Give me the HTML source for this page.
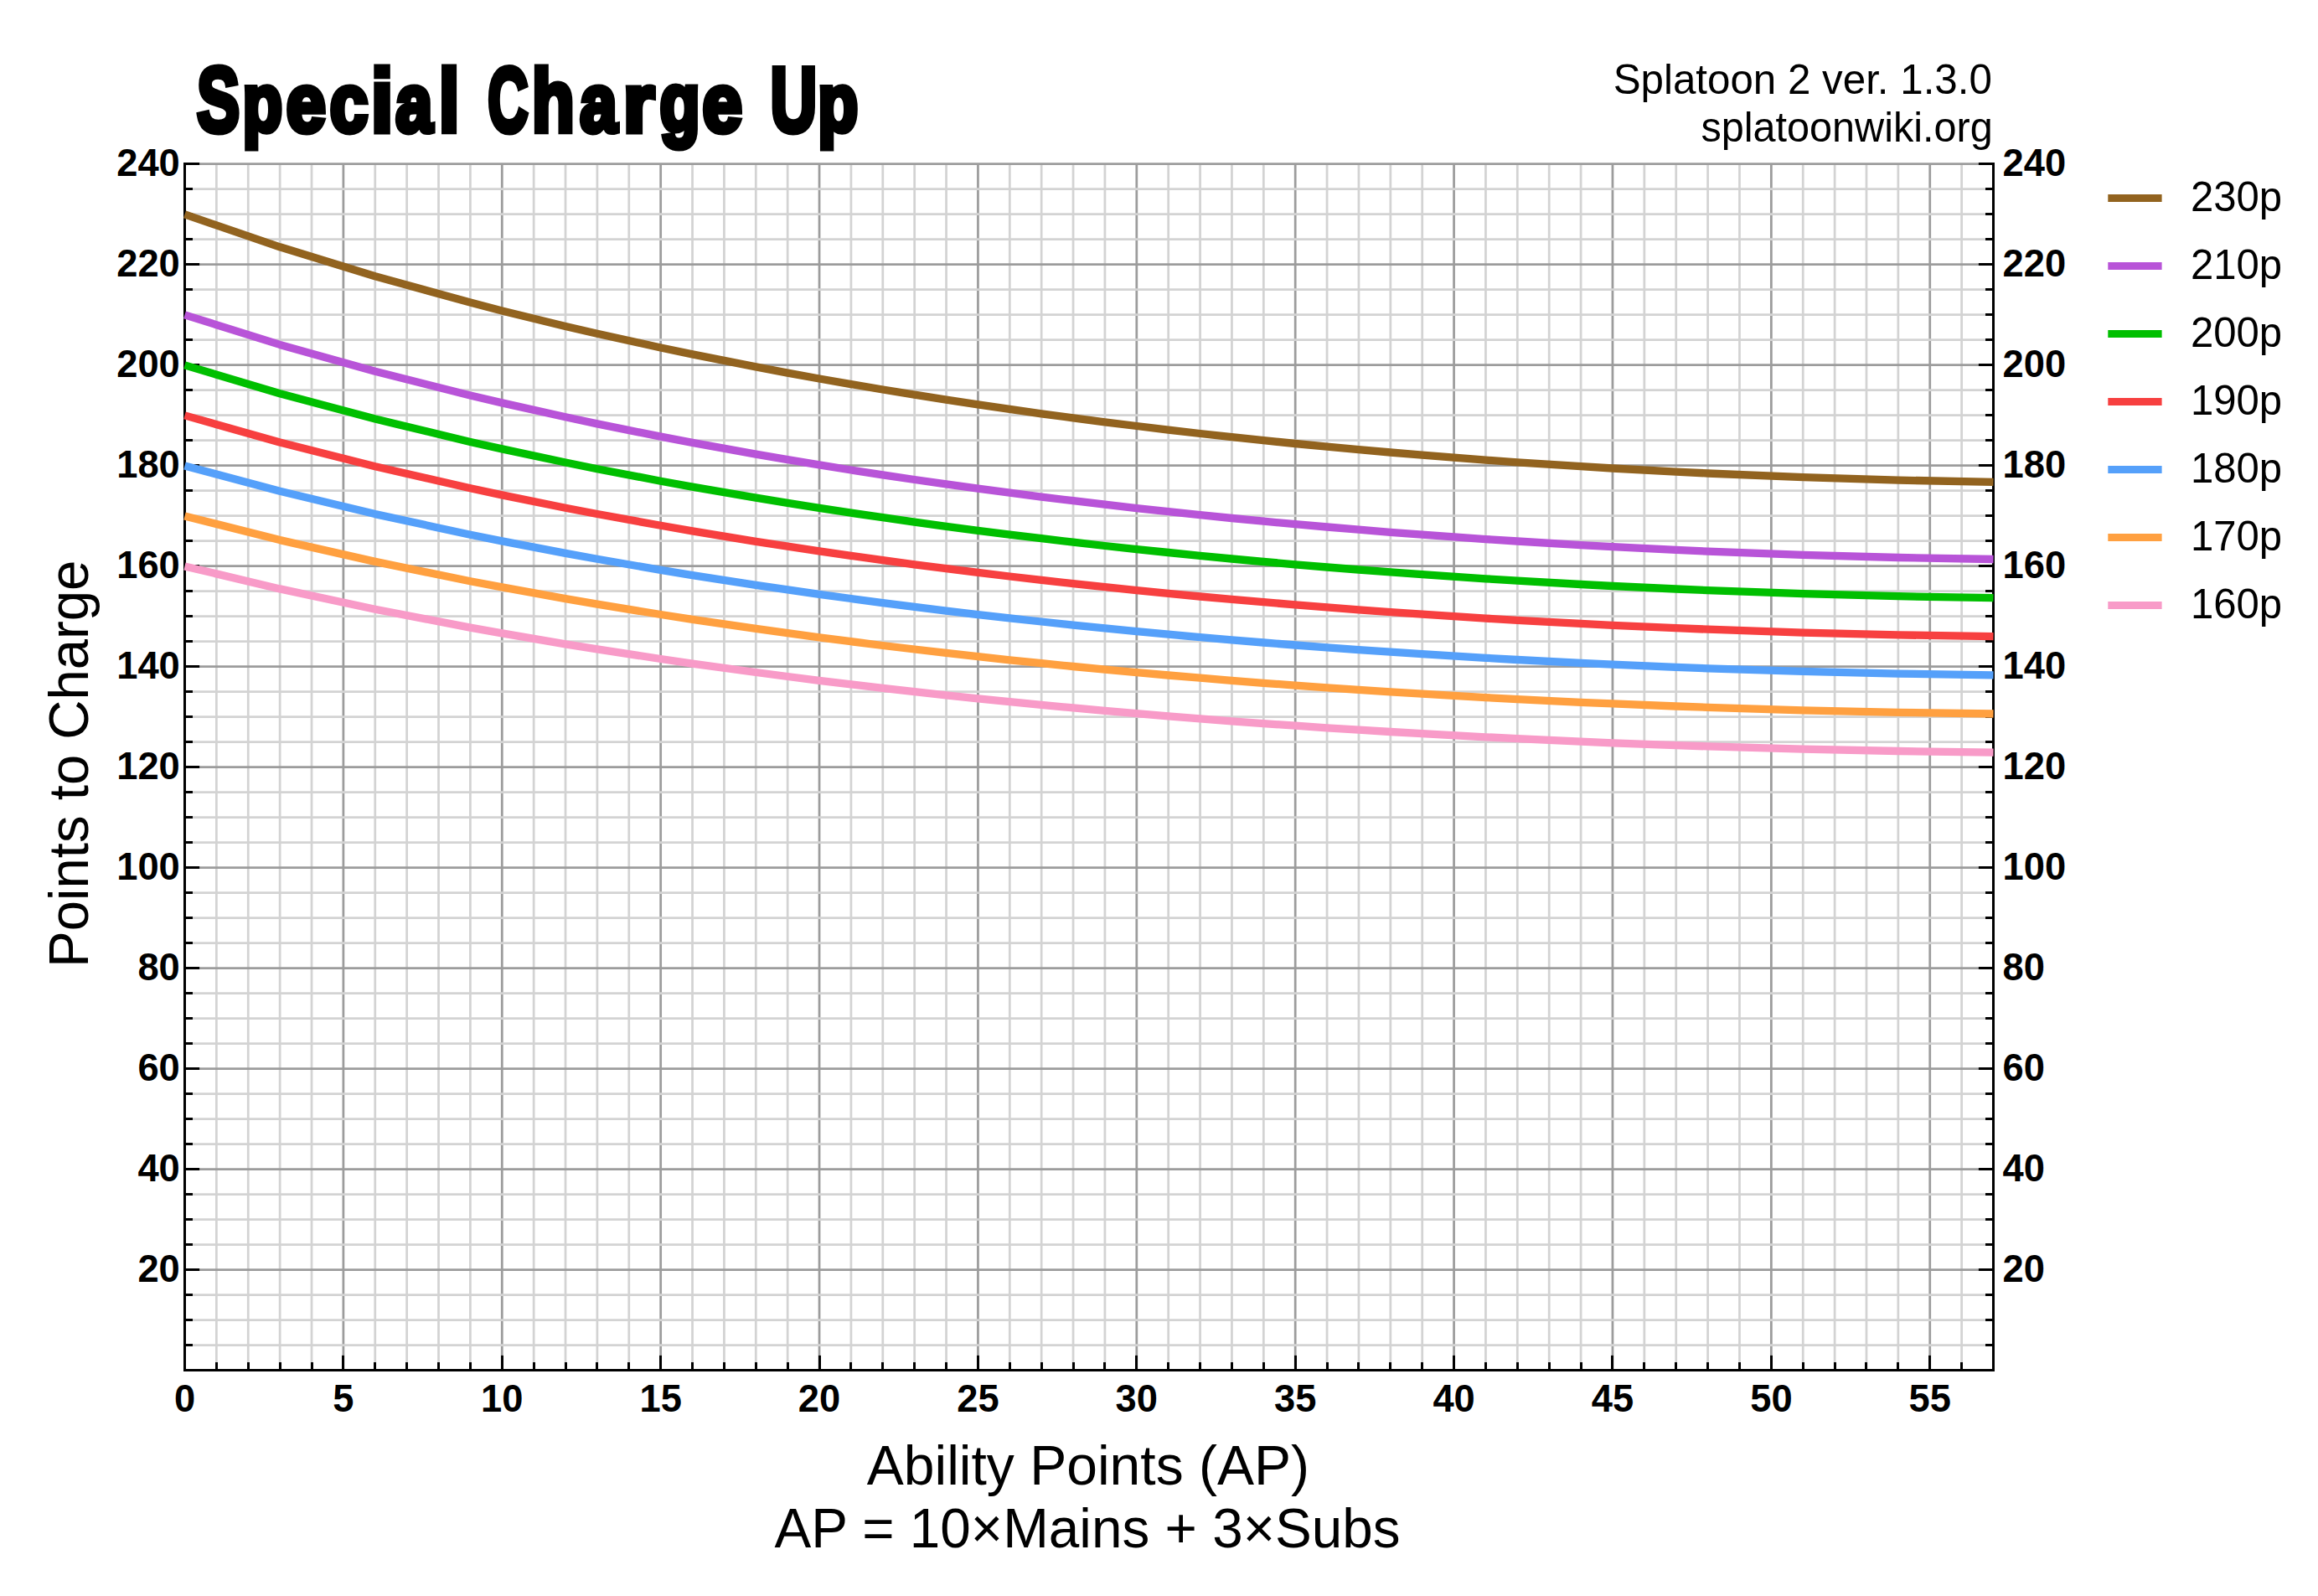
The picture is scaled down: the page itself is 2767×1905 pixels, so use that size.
<!DOCTYPE html>
<html lang="en"><head><meta charset="utf-8"><title>Special Charge Up</title>
<style>html,body{margin:0;padding:0;background:#fff}body{width:2767px;height:1905px;overflow:hidden}svg{display:block}</style></head>
<body>
<svg width="2767" height="1905" viewBox="0 0 2767 1905" font-family="'Liberation Sans', Arial, Helvetica, sans-serif">
<rect width="2767" height="1905" fill="#fff"/>
<g stroke-width="2.75" fill="none"><line x1="258.38" y1="195.5" x2="258.38" y2="1635.5" stroke="#d3d3d3"/><line x1="296.25" y1="195.5" x2="296.25" y2="1635.5" stroke="#d3d3d3"/><line x1="334.13" y1="195.5" x2="334.13" y2="1635.5" stroke="#d3d3d3"/><line x1="372.01" y1="195.5" x2="372.01" y2="1635.5" stroke="#d3d3d3"/><line x1="409.88" y1="195.5" x2="409.88" y2="1635.5" stroke="#9c9c9c"/><line x1="447.76" y1="195.5" x2="447.76" y2="1635.5" stroke="#d3d3d3"/><line x1="485.64" y1="195.5" x2="485.64" y2="1635.5" stroke="#d3d3d3"/><line x1="523.52" y1="195.5" x2="523.52" y2="1635.5" stroke="#d3d3d3"/><line x1="561.39" y1="195.5" x2="561.39" y2="1635.5" stroke="#d3d3d3"/><line x1="599.27" y1="195.5" x2="599.27" y2="1635.5" stroke="#9c9c9c"/><line x1="637.15" y1="195.5" x2="637.15" y2="1635.5" stroke="#d3d3d3"/><line x1="675.02" y1="195.5" x2="675.02" y2="1635.5" stroke="#d3d3d3"/><line x1="712.90" y1="195.5" x2="712.90" y2="1635.5" stroke="#d3d3d3"/><line x1="750.78" y1="195.5" x2="750.78" y2="1635.5" stroke="#d3d3d3"/><line x1="788.66" y1="195.5" x2="788.66" y2="1635.5" stroke="#9c9c9c"/><line x1="826.53" y1="195.5" x2="826.53" y2="1635.5" stroke="#d3d3d3"/><line x1="864.41" y1="195.5" x2="864.41" y2="1635.5" stroke="#d3d3d3"/><line x1="902.29" y1="195.5" x2="902.29" y2="1635.5" stroke="#d3d3d3"/><line x1="940.16" y1="195.5" x2="940.16" y2="1635.5" stroke="#d3d3d3"/><line x1="978.04" y1="195.5" x2="978.04" y2="1635.5" stroke="#9c9c9c"/><line x1="1015.92" y1="195.5" x2="1015.92" y2="1635.5" stroke="#d3d3d3"/><line x1="1053.79" y1="195.5" x2="1053.79" y2="1635.5" stroke="#d3d3d3"/><line x1="1091.67" y1="195.5" x2="1091.67" y2="1635.5" stroke="#d3d3d3"/><line x1="1129.55" y1="195.5" x2="1129.55" y2="1635.5" stroke="#d3d3d3"/><line x1="1167.43" y1="195.5" x2="1167.43" y2="1635.5" stroke="#9c9c9c"/><line x1="1205.30" y1="195.5" x2="1205.30" y2="1635.5" stroke="#d3d3d3"/><line x1="1243.18" y1="195.5" x2="1243.18" y2="1635.5" stroke="#d3d3d3"/><line x1="1281.06" y1="195.5" x2="1281.06" y2="1635.5" stroke="#d3d3d3"/><line x1="1318.93" y1="195.5" x2="1318.93" y2="1635.5" stroke="#d3d3d3"/><line x1="1356.81" y1="195.5" x2="1356.81" y2="1635.5" stroke="#9c9c9c"/><line x1="1394.69" y1="195.5" x2="1394.69" y2="1635.5" stroke="#d3d3d3"/><line x1="1432.56" y1="195.5" x2="1432.56" y2="1635.5" stroke="#d3d3d3"/><line x1="1470.44" y1="195.5" x2="1470.44" y2="1635.5" stroke="#d3d3d3"/><line x1="1508.32" y1="195.5" x2="1508.32" y2="1635.5" stroke="#d3d3d3"/><line x1="1546.20" y1="195.5" x2="1546.20" y2="1635.5" stroke="#9c9c9c"/><line x1="1584.07" y1="195.5" x2="1584.07" y2="1635.5" stroke="#d3d3d3"/><line x1="1621.95" y1="195.5" x2="1621.95" y2="1635.5" stroke="#d3d3d3"/><line x1="1659.83" y1="195.5" x2="1659.83" y2="1635.5" stroke="#d3d3d3"/><line x1="1697.70" y1="195.5" x2="1697.70" y2="1635.5" stroke="#d3d3d3"/><line x1="1735.58" y1="195.5" x2="1735.58" y2="1635.5" stroke="#9c9c9c"/><line x1="1773.46" y1="195.5" x2="1773.46" y2="1635.5" stroke="#d3d3d3"/><line x1="1811.33" y1="195.5" x2="1811.33" y2="1635.5" stroke="#d3d3d3"/><line x1="1849.21" y1="195.5" x2="1849.21" y2="1635.5" stroke="#d3d3d3"/><line x1="1887.09" y1="195.5" x2="1887.09" y2="1635.5" stroke="#d3d3d3"/><line x1="1924.97" y1="195.5" x2="1924.97" y2="1635.5" stroke="#9c9c9c"/><line x1="1962.84" y1="195.5" x2="1962.84" y2="1635.5" stroke="#d3d3d3"/><line x1="2000.72" y1="195.5" x2="2000.72" y2="1635.5" stroke="#d3d3d3"/><line x1="2038.60" y1="195.5" x2="2038.60" y2="1635.5" stroke="#d3d3d3"/><line x1="2076.47" y1="195.5" x2="2076.47" y2="1635.5" stroke="#d3d3d3"/><line x1="2114.35" y1="195.5" x2="2114.35" y2="1635.5" stroke="#9c9c9c"/><line x1="2152.23" y1="195.5" x2="2152.23" y2="1635.5" stroke="#d3d3d3"/><line x1="2190.10" y1="195.5" x2="2190.10" y2="1635.5" stroke="#d3d3d3"/><line x1="2227.98" y1="195.5" x2="2227.98" y2="1635.5" stroke="#d3d3d3"/><line x1="2265.86" y1="195.5" x2="2265.86" y2="1635.5" stroke="#d3d3d3"/><line x1="2303.74" y1="195.5" x2="2303.74" y2="1635.5" stroke="#9c9c9c"/><line x1="2341.61" y1="195.5" x2="2341.61" y2="1635.5" stroke="#d3d3d3"/><line x1="220.5" y1="1605.50" x2="2379.5" y2="1605.50" stroke="#d3d3d3"/><line x1="220.5" y1="1575.50" x2="2379.5" y2="1575.50" stroke="#d3d3d3"/><line x1="220.5" y1="1545.50" x2="2379.5" y2="1545.50" stroke="#d3d3d3"/><line x1="220.5" y1="1515.50" x2="2379.5" y2="1515.50" stroke="#9c9c9c"/><line x1="220.5" y1="1485.50" x2="2379.5" y2="1485.50" stroke="#d3d3d3"/><line x1="220.5" y1="1455.50" x2="2379.5" y2="1455.50" stroke="#d3d3d3"/><line x1="220.5" y1="1425.50" x2="2379.5" y2="1425.50" stroke="#d3d3d3"/><line x1="220.5" y1="1395.50" x2="2379.5" y2="1395.50" stroke="#9c9c9c"/><line x1="220.5" y1="1365.50" x2="2379.5" y2="1365.50" stroke="#d3d3d3"/><line x1="220.5" y1="1335.50" x2="2379.5" y2="1335.50" stroke="#d3d3d3"/><line x1="220.5" y1="1305.50" x2="2379.5" y2="1305.50" stroke="#d3d3d3"/><line x1="220.5" y1="1275.50" x2="2379.5" y2="1275.50" stroke="#9c9c9c"/><line x1="220.5" y1="1245.50" x2="2379.5" y2="1245.50" stroke="#d3d3d3"/><line x1="220.5" y1="1215.50" x2="2379.5" y2="1215.50" stroke="#d3d3d3"/><line x1="220.5" y1="1185.50" x2="2379.5" y2="1185.50" stroke="#d3d3d3"/><line x1="220.5" y1="1155.50" x2="2379.5" y2="1155.50" stroke="#9c9c9c"/><line x1="220.5" y1="1125.50" x2="2379.5" y2="1125.50" stroke="#d3d3d3"/><line x1="220.5" y1="1095.50" x2="2379.5" y2="1095.50" stroke="#d3d3d3"/><line x1="220.5" y1="1065.50" x2="2379.5" y2="1065.50" stroke="#d3d3d3"/><line x1="220.5" y1="1035.50" x2="2379.5" y2="1035.50" stroke="#9c9c9c"/><line x1="220.5" y1="1005.50" x2="2379.5" y2="1005.50" stroke="#d3d3d3"/><line x1="220.5" y1="975.50" x2="2379.5" y2="975.50" stroke="#d3d3d3"/><line x1="220.5" y1="945.50" x2="2379.5" y2="945.50" stroke="#d3d3d3"/><line x1="220.5" y1="915.50" x2="2379.5" y2="915.50" stroke="#9c9c9c"/><line x1="220.5" y1="885.50" x2="2379.5" y2="885.50" stroke="#d3d3d3"/><line x1="220.5" y1="855.50" x2="2379.5" y2="855.50" stroke="#d3d3d3"/><line x1="220.5" y1="825.50" x2="2379.5" y2="825.50" stroke="#d3d3d3"/><line x1="220.5" y1="795.50" x2="2379.5" y2="795.50" stroke="#9c9c9c"/><line x1="220.5" y1="765.50" x2="2379.5" y2="765.50" stroke="#d3d3d3"/><line x1="220.5" y1="735.50" x2="2379.5" y2="735.50" stroke="#d3d3d3"/><line x1="220.5" y1="705.50" x2="2379.5" y2="705.50" stroke="#d3d3d3"/><line x1="220.5" y1="675.50" x2="2379.5" y2="675.50" stroke="#9c9c9c"/><line x1="220.5" y1="645.50" x2="2379.5" y2="645.50" stroke="#d3d3d3"/><line x1="220.5" y1="615.50" x2="2379.5" y2="615.50" stroke="#d3d3d3"/><line x1="220.5" y1="585.50" x2="2379.5" y2="585.50" stroke="#d3d3d3"/><line x1="220.5" y1="555.50" x2="2379.5" y2="555.50" stroke="#9c9c9c"/><line x1="220.5" y1="525.50" x2="2379.5" y2="525.50" stroke="#d3d3d3"/><line x1="220.5" y1="495.50" x2="2379.5" y2="495.50" stroke="#d3d3d3"/><line x1="220.5" y1="465.50" x2="2379.5" y2="465.50" stroke="#d3d3d3"/><line x1="220.5" y1="435.50" x2="2379.5" y2="435.50" stroke="#9c9c9c"/><line x1="220.5" y1="405.50" x2="2379.5" y2="405.50" stroke="#d3d3d3"/><line x1="220.5" y1="375.50" x2="2379.5" y2="375.50" stroke="#d3d3d3"/><line x1="220.5" y1="345.50" x2="2379.5" y2="345.50" stroke="#d3d3d3"/><line x1="220.5" y1="315.50" x2="2379.5" y2="315.50" stroke="#9c9c9c"/><line x1="220.5" y1="285.50" x2="2379.5" y2="285.50" stroke="#d3d3d3"/><line x1="220.5" y1="255.50" x2="2379.5" y2="255.50" stroke="#d3d3d3"/><line x1="220.5" y1="225.50" x2="2379.5" y2="225.50" stroke="#d3d3d3"/><line x1="220.5" y1="195.50" x2="2379.5" y2="195.50" stroke="#9c9c9c"/></g>
<path d="M220.5 194.0V1635.5H2379.489V194.0" fill="none" stroke="#000" stroke-width="3" stroke-linejoin="miter" stroke-linecap="butt"/><g stroke="#000" stroke-width="3"><line x1="258.5" y1="1635.5" x2="258.5" y2="1626.0"/><line x1="296.5" y1="1635.5" x2="296.5" y2="1626.0"/><line x1="334.5" y1="1635.5" x2="334.5" y2="1626.0"/><line x1="372.5" y1="1635.5" x2="372.5" y2="1626.0"/><line x1="409.5" y1="1635.5" x2="409.5" y2="1617.9"/><line x1="447.5" y1="1635.5" x2="447.5" y2="1626.0"/><line x1="485.5" y1="1635.5" x2="485.5" y2="1626.0"/><line x1="523.5" y1="1635.5" x2="523.5" y2="1626.0"/><line x1="561.5" y1="1635.5" x2="561.5" y2="1626.0"/><line x1="599.5" y1="1635.5" x2="599.5" y2="1617.9"/><line x1="637.5" y1="1635.5" x2="637.5" y2="1626.0"/><line x1="675.5" y1="1635.5" x2="675.5" y2="1626.0"/><line x1="712.5" y1="1635.5" x2="712.5" y2="1626.0"/><line x1="750.5" y1="1635.5" x2="750.5" y2="1626.0"/><line x1="788.5" y1="1635.5" x2="788.5" y2="1617.9"/><line x1="826.5" y1="1635.5" x2="826.5" y2="1626.0"/><line x1="864.5" y1="1635.5" x2="864.5" y2="1626.0"/><line x1="902.5" y1="1635.5" x2="902.5" y2="1626.0"/><line x1="940.5" y1="1635.5" x2="940.5" y2="1626.0"/><line x1="978.5" y1="1635.5" x2="978.5" y2="1617.9"/><line x1="1015.5" y1="1635.5" x2="1015.5" y2="1626.0"/><line x1="1053.5" y1="1635.5" x2="1053.5" y2="1626.0"/><line x1="1091.5" y1="1635.5" x2="1091.5" y2="1626.0"/><line x1="1129.5" y1="1635.5" x2="1129.5" y2="1626.0"/><line x1="1167.5" y1="1635.5" x2="1167.5" y2="1617.9"/><line x1="1205.5" y1="1635.5" x2="1205.5" y2="1626.0"/><line x1="1243.5" y1="1635.5" x2="1243.5" y2="1626.0"/><line x1="1281.5" y1="1635.5" x2="1281.5" y2="1626.0"/><line x1="1318.5" y1="1635.5" x2="1318.5" y2="1626.0"/><line x1="1356.5" y1="1635.5" x2="1356.5" y2="1617.9"/><line x1="1394.5" y1="1635.5" x2="1394.5" y2="1626.0"/><line x1="1432.5" y1="1635.5" x2="1432.5" y2="1626.0"/><line x1="1470.5" y1="1635.5" x2="1470.5" y2="1626.0"/><line x1="1508.5" y1="1635.5" x2="1508.5" y2="1626.0"/><line x1="1546.5" y1="1635.5" x2="1546.5" y2="1617.9"/><line x1="1584.5" y1="1635.5" x2="1584.5" y2="1626.0"/><line x1="1621.5" y1="1635.5" x2="1621.5" y2="1626.0"/><line x1="1659.5" y1="1635.5" x2="1659.5" y2="1626.0"/><line x1="1697.5" y1="1635.5" x2="1697.5" y2="1626.0"/><line x1="1735.5" y1="1635.5" x2="1735.5" y2="1617.9"/><line x1="1773.5" y1="1635.5" x2="1773.5" y2="1626.0"/><line x1="1811.5" y1="1635.5" x2="1811.5" y2="1626.0"/><line x1="1849.5" y1="1635.5" x2="1849.5" y2="1626.0"/><line x1="1887.5" y1="1635.5" x2="1887.5" y2="1626.0"/><line x1="1924.5" y1="1635.5" x2="1924.5" y2="1617.9"/><line x1="1962.5" y1="1635.5" x2="1962.5" y2="1626.0"/><line x1="2000.5" y1="1635.5" x2="2000.5" y2="1626.0"/><line x1="2038.5" y1="1635.5" x2="2038.5" y2="1626.0"/><line x1="2076.5" y1="1635.5" x2="2076.5" y2="1626.0"/><line x1="2114.5" y1="1635.5" x2="2114.5" y2="1617.9"/><line x1="2152.5" y1="1635.5" x2="2152.5" y2="1626.0"/><line x1="2190.5" y1="1635.5" x2="2190.5" y2="1626.0"/><line x1="2227.5" y1="1635.5" x2="2227.5" y2="1626.0"/><line x1="2265.5" y1="1635.5" x2="2265.5" y2="1626.0"/><line x1="2303.5" y1="1635.5" x2="2303.5" y2="1617.9"/><line x1="2341.5" y1="1635.5" x2="2341.5" y2="1626.0"/><line x1="220.5" y1="1605.5" x2="230.0" y2="1605.5"/><line x1="2379.489" y1="1605.5" x2="2369.989" y2="1605.5"/><line x1="220.5" y1="1575.5" x2="230.0" y2="1575.5"/><line x1="2379.489" y1="1575.5" x2="2369.989" y2="1575.5"/><line x1="220.5" y1="1545.5" x2="230.0" y2="1545.5"/><line x1="2379.489" y1="1545.5" x2="2369.989" y2="1545.5"/><line x1="220.5" y1="1515.5" x2="238.1" y2="1515.5"/><line x1="2379.489" y1="1515.5" x2="2361.889" y2="1515.5"/><line x1="220.5" y1="1485.5" x2="230.0" y2="1485.5"/><line x1="2379.489" y1="1485.5" x2="2369.989" y2="1485.5"/><line x1="220.5" y1="1455.5" x2="230.0" y2="1455.5"/><line x1="2379.489" y1="1455.5" x2="2369.989" y2="1455.5"/><line x1="220.5" y1="1425.5" x2="230.0" y2="1425.5"/><line x1="2379.489" y1="1425.5" x2="2369.989" y2="1425.5"/><line x1="220.5" y1="1395.5" x2="238.1" y2="1395.5"/><line x1="2379.489" y1="1395.5" x2="2361.889" y2="1395.5"/><line x1="220.5" y1="1365.5" x2="230.0" y2="1365.5"/><line x1="2379.489" y1="1365.5" x2="2369.989" y2="1365.5"/><line x1="220.5" y1="1335.5" x2="230.0" y2="1335.5"/><line x1="2379.489" y1="1335.5" x2="2369.989" y2="1335.5"/><line x1="220.5" y1="1305.5" x2="230.0" y2="1305.5"/><line x1="2379.489" y1="1305.5" x2="2369.989" y2="1305.5"/><line x1="220.5" y1="1275.5" x2="238.1" y2="1275.5"/><line x1="2379.489" y1="1275.5" x2="2361.889" y2="1275.5"/><line x1="220.5" y1="1245.5" x2="230.0" y2="1245.5"/><line x1="2379.489" y1="1245.5" x2="2369.989" y2="1245.5"/><line x1="220.5" y1="1215.5" x2="230.0" y2="1215.5"/><line x1="2379.489" y1="1215.5" x2="2369.989" y2="1215.5"/><line x1="220.5" y1="1185.5" x2="230.0" y2="1185.5"/><line x1="2379.489" y1="1185.5" x2="2369.989" y2="1185.5"/><line x1="220.5" y1="1155.5" x2="238.1" y2="1155.5"/><line x1="2379.489" y1="1155.5" x2="2361.889" y2="1155.5"/><line x1="220.5" y1="1125.5" x2="230.0" y2="1125.5"/><line x1="2379.489" y1="1125.5" x2="2369.989" y2="1125.5"/><line x1="220.5" y1="1095.5" x2="230.0" y2="1095.5"/><line x1="2379.489" y1="1095.5" x2="2369.989" y2="1095.5"/><line x1="220.5" y1="1065.5" x2="230.0" y2="1065.5"/><line x1="2379.489" y1="1065.5" x2="2369.989" y2="1065.5"/><line x1="220.5" y1="1035.5" x2="238.1" y2="1035.5"/><line x1="2379.489" y1="1035.5" x2="2361.889" y2="1035.5"/><line x1="220.5" y1="1005.5" x2="230.0" y2="1005.5"/><line x1="2379.489" y1="1005.5" x2="2369.989" y2="1005.5"/><line x1="220.5" y1="975.5" x2="230.0" y2="975.5"/><line x1="2379.489" y1="975.5" x2="2369.989" y2="975.5"/><line x1="220.5" y1="945.5" x2="230.0" y2="945.5"/><line x1="2379.489" y1="945.5" x2="2369.989" y2="945.5"/><line x1="220.5" y1="915.5" x2="238.1" y2="915.5"/><line x1="2379.489" y1="915.5" x2="2361.889" y2="915.5"/><line x1="220.5" y1="885.5" x2="230.0" y2="885.5"/><line x1="2379.489" y1="885.5" x2="2369.989" y2="885.5"/><line x1="220.5" y1="855.5" x2="230.0" y2="855.5"/><line x1="2379.489" y1="855.5" x2="2369.989" y2="855.5"/><line x1="220.5" y1="825.5" x2="230.0" y2="825.5"/><line x1="2379.489" y1="825.5" x2="2369.989" y2="825.5"/><line x1="220.5" y1="795.5" x2="238.1" y2="795.5"/><line x1="2379.489" y1="795.5" x2="2361.889" y2="795.5"/><line x1="220.5" y1="765.5" x2="230.0" y2="765.5"/><line x1="2379.489" y1="765.5" x2="2369.989" y2="765.5"/><line x1="220.5" y1="735.5" x2="230.0" y2="735.5"/><line x1="2379.489" y1="735.5" x2="2369.989" y2="735.5"/><line x1="220.5" y1="705.5" x2="230.0" y2="705.5"/><line x1="2379.489" y1="705.5" x2="2369.989" y2="705.5"/><line x1="220.5" y1="675.5" x2="238.1" y2="675.5"/><line x1="2379.489" y1="675.5" x2="2361.889" y2="675.5"/><line x1="220.5" y1="645.5" x2="230.0" y2="645.5"/><line x1="2379.489" y1="645.5" x2="2369.989" y2="645.5"/><line x1="220.5" y1="615.5" x2="230.0" y2="615.5"/><line x1="2379.489" y1="615.5" x2="2369.989" y2="615.5"/><line x1="220.5" y1="585.5" x2="230.0" y2="585.5"/><line x1="2379.489" y1="585.5" x2="2369.989" y2="585.5"/><line x1="220.5" y1="555.5" x2="238.1" y2="555.5"/><line x1="2379.489" y1="555.5" x2="2361.889" y2="555.5"/><line x1="220.5" y1="525.5" x2="230.0" y2="525.5"/><line x1="2379.489" y1="525.5" x2="2369.989" y2="525.5"/><line x1="220.5" y1="495.5" x2="230.0" y2="495.5"/><line x1="2379.489" y1="495.5" x2="2369.989" y2="495.5"/><line x1="220.5" y1="465.5" x2="230.0" y2="465.5"/><line x1="2379.489" y1="465.5" x2="2369.989" y2="465.5"/><line x1="220.5" y1="435.5" x2="238.1" y2="435.5"/><line x1="2379.489" y1="435.5" x2="2361.889" y2="435.5"/><line x1="220.5" y1="405.5" x2="230.0" y2="405.5"/><line x1="2379.489" y1="405.5" x2="2369.989" y2="405.5"/><line x1="220.5" y1="375.5" x2="230.0" y2="375.5"/><line x1="2379.489" y1="375.5" x2="2369.989" y2="375.5"/><line x1="220.5" y1="345.5" x2="230.0" y2="345.5"/><line x1="2379.489" y1="345.5" x2="2369.989" y2="345.5"/><line x1="220.5" y1="315.5" x2="238.1" y2="315.5"/><line x1="2379.489" y1="315.5" x2="2361.889" y2="315.5"/><line x1="220.5" y1="285.5" x2="230.0" y2="285.5"/><line x1="2379.489" y1="285.5" x2="2369.989" y2="285.5"/><line x1="220.5" y1="255.5" x2="230.0" y2="255.5"/><line x1="2379.489" y1="255.5" x2="2369.989" y2="255.5"/><line x1="220.5" y1="225.5" x2="230.0" y2="225.5"/><line x1="2379.489" y1="225.5" x2="2369.989" y2="225.5"/><line x1="220.5" y1="195.5" x2="238.1" y2="195.5"/><line x1="2379.489" y1="195.5" x2="2361.889" y2="195.5"/></g>
<g fill="none" stroke-width="9.3" stroke-linejoin="round" stroke-linecap="butt"><polyline points="220.5,255.9 334.1,294.8 447.8,329.7 561.4,361.1 599.3,370.9 675.0,389.4 712.9,398.2 788.7,415.0 826.5,422.9 902.3,437.9 940.2,445.1 978.0,452.0 1015.9,458.6 1053.8,465.0 1091.7,471.2 1129.5,477.2 1167.4,482.9 1205.3,488.4 1243.2,493.8 1281.1,498.9 1318.9,503.8 1356.8,508.5 1394.7,513.1 1432.6,517.5 1470.4,521.6 1508.3,525.7 1546.2,529.5 1584.1,533.2 1621.9,536.7 1659.8,540.0 1697.7,543.2 1773.5,549.1 1811.3,551.8 1887.1,556.7 1925.0,559.0 2000.7,563.1 2038.6,565.0 2152.2,569.6 2265.9,573.1 2379.5,575.3" stroke="#92631f"/><polyline points="220.5,375.9 334.1,411.4 447.8,443.3 561.4,472.0 599.3,480.9 675.0,497.8 712.9,505.9 788.7,521.1 826.5,528.4 902.3,542.1 940.2,548.6 978.0,554.9 1015.9,561.0 1053.8,566.8 1091.7,572.5 1129.5,577.9 1167.4,583.2 1205.3,588.2 1243.2,593.1 1281.1,597.7 1318.9,602.2 1356.8,606.6 1394.7,610.7 1432.6,614.7 1470.4,618.5 1508.3,622.2 1546.2,625.7 1584.1,629.0 1621.9,632.2 1659.8,635.3 1697.7,638.2 1773.5,643.6 1811.3,646.0 1887.1,650.6 1925.0,652.7 2000.7,656.4 2038.6,658.1 2152.2,662.3 2265.9,665.5 2379.5,667.5" stroke="#b854d8"/><polyline points="220.5,435.9 334.1,469.7 447.8,500.1 561.4,527.4 599.3,535.9 675.0,552.0 712.9,559.7 788.7,574.2 826.5,581.1 902.3,594.2 940.2,600.4 978.0,606.4 1015.9,612.2 1053.8,617.7 1091.7,623.1 1129.5,628.3 1167.4,633.3 1205.3,638.1 1243.2,642.7 1281.1,647.2 1318.9,651.5 1356.8,655.6 1394.7,659.5 1432.6,663.3 1470.4,667.0 1508.3,670.5 1546.2,673.8 1584.1,677.0 1621.9,680.0 1659.8,682.9 1697.7,685.7 1773.5,690.8 1811.3,693.2 1887.1,697.5 1925.0,699.5 2000.7,703.0 2038.6,704.6 2152.2,708.7 2265.9,711.7 2379.5,713.6" stroke="#00bf00"/><polyline points="220.5,495.9 334.1,528.0 447.8,556.8 561.4,582.8 599.3,590.9 675.0,606.2 712.9,613.5 788.7,627.3 826.5,633.8 902.3,646.3 940.2,652.2 978.0,657.9 1015.9,663.4 1053.8,668.6 1091.7,673.8 1129.5,678.7 1167.4,683.4 1205.3,688.0 1243.2,692.4 1281.1,696.6 1318.9,700.7 1356.8,704.6 1394.7,708.4 1432.6,712.0 1470.4,715.4 1508.3,718.7 1546.2,721.9 1584.1,724.9 1621.9,727.8 1659.8,730.6 1697.7,733.2 1773.5,738.1 1811.3,740.3 1887.1,744.4 1925.0,746.3 2000.7,749.7 2038.6,751.2 2152.2,755.1 2265.9,757.9 2379.5,759.7" stroke="#f74040"/><polyline points="220.5,555.9 334.1,586.3 447.8,613.6 561.4,638.2 599.3,645.9 675.0,660.4 712.9,667.3 788.7,680.4 826.5,686.6 902.3,698.4 940.2,703.9 978.0,709.3 1015.9,714.5 1053.8,719.6 1091.7,724.4 1129.5,729.1 1167.4,733.6 1205.3,737.9 1243.2,742.0 1281.1,746.1 1318.9,749.9 1356.8,753.6 1394.7,757.2 1432.6,760.6 1470.4,763.9 1508.3,767.0 1546.2,770.0 1584.1,772.9 1621.9,775.6 1659.8,778.2 1697.7,780.7 1773.5,785.3 1811.3,787.5 1887.1,791.3 1925.0,793.1 2000.7,796.3 2038.6,797.8 2152.2,801.4 2265.9,804.1 2379.5,805.9" stroke="#55a0fa"/><polyline points="220.5,615.9 334.1,644.6 447.8,670.4 561.4,693.7 599.3,700.9 675.0,714.6 712.9,721.1 788.7,733.5 826.5,739.3 902.3,750.4 940.2,755.7 978.0,760.8 1015.9,765.7 1053.8,770.5 1091.7,775.0 1129.5,779.4 1167.4,783.7 1205.3,787.8 1243.2,791.7 1281.1,795.5 1318.9,799.1 1356.8,802.6 1394.7,806.0 1432.6,809.2 1470.4,812.3 1508.3,815.3 1546.2,818.1 1584.1,820.8 1621.9,823.4 1659.8,825.9 1697.7,828.2 1773.5,832.6 1811.3,834.6 1887.1,838.3 1925.0,839.9 2000.7,843.0 2038.6,844.3 2152.2,847.8 2265.9,850.3 2379.5,852.0" stroke="#ffa040"/><polyline points="220.5,675.9 334.1,702.9 447.8,727.2 561.4,749.1 599.3,755.9 675.0,768.8 712.9,774.9 788.7,786.5 826.5,792.1 902.3,802.5 940.2,807.5 978.0,812.3 1015.9,816.9 1053.8,821.4 1091.7,825.7 1129.5,829.8 1167.4,833.8 1205.3,837.7 1243.2,841.4 1281.1,844.9 1318.9,848.4 1356.8,851.7 1394.7,854.8 1432.6,857.9 1470.4,860.8 1508.3,863.6 1546.2,866.2 1584.1,868.8 1621.9,871.2 1659.8,873.5 1697.7,875.7 1773.5,879.8 1811.3,881.7 1887.1,885.2 1925.0,886.8 2000.7,889.6 2038.6,890.9 2152.2,894.1 2265.9,896.5 2379.5,898.1" stroke="#f89bc8"/></g>
<g font-size="46" font-weight="bold" fill="#000"><text transform="translate(220.5 1684.9) scale(0.985 1)" text-anchor="middle">0</text><text transform="translate(409.9 1684.9) scale(0.985 1)" text-anchor="middle">5</text><text transform="translate(599.3 1684.9) scale(0.985 1)" text-anchor="middle">10</text><text transform="translate(788.7 1684.9) scale(0.985 1)" text-anchor="middle">15</text><text transform="translate(978.0 1684.9) scale(0.985 1)" text-anchor="middle">20</text><text transform="translate(1167.4 1684.9) scale(0.985 1)" text-anchor="middle">25</text><text transform="translate(1356.8 1684.9) scale(0.985 1)" text-anchor="middle">30</text><text transform="translate(1546.2 1684.9) scale(0.985 1)" text-anchor="middle">35</text><text transform="translate(1735.6 1684.9) scale(0.985 1)" text-anchor="middle">40</text><text transform="translate(1925.0 1684.9) scale(0.985 1)" text-anchor="middle">45</text><text transform="translate(2114.4 1684.9) scale(0.985 1)" text-anchor="middle">50</text><text transform="translate(2303.7 1684.9) scale(0.985 1)" text-anchor="middle">55</text><text transform="translate(214.8 1530.0) scale(0.985 1)" text-anchor="end">20</text><text transform="translate(2390.5 1530.0) scale(0.985 1)" text-anchor="start">20</text><text transform="translate(214.8 1410.0) scale(0.985 1)" text-anchor="end">40</text><text transform="translate(2390.5 1410.0) scale(0.985 1)" text-anchor="start">40</text><text transform="translate(214.8 1290.0) scale(0.985 1)" text-anchor="end">60</text><text transform="translate(2390.5 1290.0) scale(0.985 1)" text-anchor="start">60</text><text transform="translate(214.8 1170.0) scale(0.985 1)" text-anchor="end">80</text><text transform="translate(2390.5 1170.0) scale(0.985 1)" text-anchor="start">80</text><text transform="translate(214.8 1050.0) scale(0.985 1)" text-anchor="end">100</text><text transform="translate(2390.5 1050.0) scale(0.985 1)" text-anchor="start">100</text><text transform="translate(214.8 930.0) scale(0.985 1)" text-anchor="end">120</text><text transform="translate(2390.5 930.0) scale(0.985 1)" text-anchor="start">120</text><text transform="translate(214.8 810.0) scale(0.985 1)" text-anchor="end">140</text><text transform="translate(2390.5 810.0) scale(0.985 1)" text-anchor="start">140</text><text transform="translate(214.8 690.0) scale(0.985 1)" text-anchor="end">160</text><text transform="translate(2390.5 690.0) scale(0.985 1)" text-anchor="start">160</text><text transform="translate(214.8 570.0) scale(0.985 1)" text-anchor="end">180</text><text transform="translate(2390.5 570.0) scale(0.985 1)" text-anchor="start">180</text><text transform="translate(214.8 450.0) scale(0.985 1)" text-anchor="end">200</text><text transform="translate(2390.5 450.0) scale(0.985 1)" text-anchor="start">200</text><text transform="translate(214.8 330.0) scale(0.985 1)" text-anchor="end">220</text><text transform="translate(2390.5 330.0) scale(0.985 1)" text-anchor="start">220</text><text transform="translate(214.8 210.0) scale(0.985 1)" text-anchor="end">240</text><text transform="translate(2390.5 210.0) scale(0.985 1)" text-anchor="start">240</text></g>
<line x1="2516.3" y1="236.4" x2="2580.6" y2="236.4" stroke="#92631f" stroke-width="9"/><text x="2614.9" y="251.7" font-size="49.1">230p</text><line x1="2516.3" y1="317.4" x2="2580.6" y2="317.4" stroke="#b854d8" stroke-width="9"/><text x="2614.9" y="332.7" font-size="49.1">210p</text><line x1="2516.3" y1="398.4" x2="2580.6" y2="398.4" stroke="#00bf00" stroke-width="9"/><text x="2614.9" y="413.7" font-size="49.1">200p</text><line x1="2516.3" y1="479.4" x2="2580.6" y2="479.4" stroke="#f74040" stroke-width="9"/><text x="2614.9" y="494.7" font-size="49.1">190p</text><line x1="2516.3" y1="560.4" x2="2580.6" y2="560.4" stroke="#55a0fa" stroke-width="9"/><text x="2614.9" y="575.7" font-size="49.1">180p</text><line x1="2516.3" y1="641.4" x2="2580.6" y2="641.4" stroke="#ffa040" stroke-width="9"/><text x="2614.9" y="656.7" font-size="49.1">170p</text><line x1="2516.3" y1="722.4" x2="2580.6" y2="722.4" stroke="#f89bc8" stroke-width="9"/><text x="2614.9" y="737.7" font-size="49.1">160p</text>
<g font-size="49.3" text-anchor="end"><text x="2377.9" y="112.3">Splatoon 2 ver. 1.3.0</text><text transform="translate(2378.8 169.2) scale(0.986 1)">splatoonwiki.org</text></g>
<g font-size="66" text-anchor="middle"><text x="1298.9" y="1772.1">Ability Points (AP)</text><text transform="translate(1298.1 1847.1) scale(0.995 1)">AP = 10×Mains + 3×Subs</text><text transform="translate(105 911.7) rotate(-90) scale(0.989 1)">Points to Charge</text></g>
<text y="156.5" font-size="108.8" font-weight="bold" stroke="#000" stroke-width="7" stroke-linejoin="miter"><tspan x="235.1" textLength="51.2" lengthAdjust="spacingAndGlyphs">S</tspan><tspan x="289.6" font-size="98.5" textLength="47.6" lengthAdjust="spacingAndGlyphs">p</tspan><tspan x="341.7" font-size="98.5" textLength="47.1" lengthAdjust="spacingAndGlyphs">e</tspan><tspan x="393.8" font-size="98.5" textLength="45.5" lengthAdjust="spacingAndGlyphs">c</tspan><tspan x="442.7" font-size="106" textLength="26.7" lengthAdjust="spacingAndGlyphs">i</tspan><tspan x="472.3" font-size="98.5" textLength="44.1" lengthAdjust="spacingAndGlyphs">a</tspan><tspan x="523.7" font-size="106" textLength="24.7" lengthAdjust="spacingAndGlyphs">l</tspan> <tspan x="582.2" textLength="48.3" lengthAdjust="spacingAndGlyphs">C</tspan><tspan x="634.8" font-size="106" textLength="51.1" lengthAdjust="spacingAndGlyphs">h</tspan><tspan x="692.2" font-size="98.5" textLength="44.4" lengthAdjust="spacingAndGlyphs">a</tspan><tspan x="743.9" font-size="98.5" textLength="37.1" lengthAdjust="spacingAndGlyphs">r</tspan><tspan x="787.6" font-size="98.5" textLength="48.1" lengthAdjust="spacingAndGlyphs">g</tspan><tspan x="838.4" font-size="98.5" textLength="47.4" lengthAdjust="spacingAndGlyphs">e</tspan> <tspan x="919.6" textLength="55.7" lengthAdjust="spacingAndGlyphs">U</tspan><tspan x="976.2" font-size="98.5" textLength="48.0" lengthAdjust="spacingAndGlyphs">p</tspan></text>
</svg>
</body></html>
